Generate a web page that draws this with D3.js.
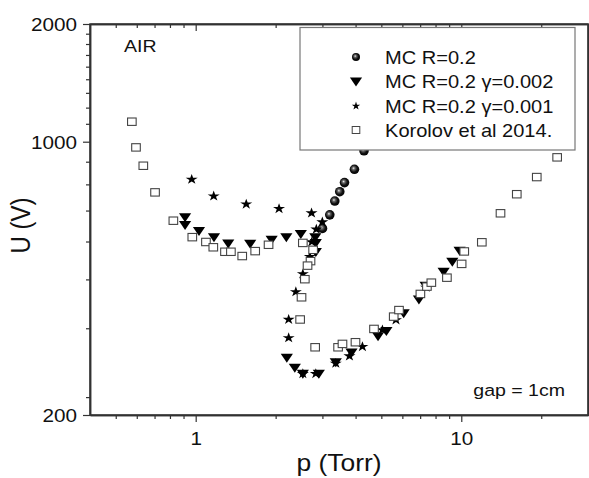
<!DOCTYPE html>
<html>
<head>
<meta charset="utf-8">
<script src="https://cdn.jsdelivr.net/npm/d3@7"></script>
<style>
  body { margin: 0; background: #fff; }
  text { font-family: "Liberation Sans", Arial, sans-serif; fill: #111; }
</style>
</head>
<body>
<svg id="chart" width="589" height="478"></svg>
<script>
// Korolov et al 2014 (open squares)
const korolovP = [0.575, 0.596, 0.635, 0.703, 0.824, 0.971, 1.093, 1.165, 1.289, 1.357, 1.497, 1.675, 1.881,
  2.532, 2.768, 2.706, 2.637, 2.576, 2.503, 2.473, 2.817, 3.437, 3.570, 3.996, 4.692, 5.567, 5.828,
  7.015, 7.424, 7.713, 8.829, 10.03, 10.26, 11.95, 14.05, 16.18, 19.24, 22.96];
const korolovU = [1125, 967, 868, 742, 628, 570, 554, 537, 523, 523, 510, 525, 545,
  551, 529, 495, 482, 445, 400, 351, 298, 298, 304, 307, 332, 357, 371,
  408, 426, 436, 449, 487, 524, 553, 656, 734, 812, 912];

// MC R=0.2 (spheres)
const mcP = [3.002, 3.198, 3.340, 3.487, 3.633, 3.960, 4.303];
const mcU = [600, 650, 705, 745, 786, 850, 948];

// MC R=0.2 gamma=0.002 (down triangles)
const mc002P = [0.912, 0.912, 1.029, 1.172, 1.326, 1.604, 1.932, 2.194, 2.488, 2.821, 2.833, 2.833,
  2.204, 2.362, 2.532, 2.908, 3.369, 3.860, 4.859, 5.224, 6.069, 6.927, 7.340, 8.581, 9.251, 9.854];
const mc002U = [641, 612, 591, 570, 549, 548, 561, 570, 581, 570, 551, 522,
  280, 264, 255, 255, 273, 289, 318, 328, 364, 395, 428, 465, 493, 526];

// MC R=0.2 gamma=0.001 (stars)
const mc001P = [0.966, 1.169, 1.550, 2.060, 2.730, 2.998, 2.846, 2.737, 2.690, 2.532, 2.383, 2.239, 2.239,
  2.532, 2.833, 3.369, 3.793, 4.244, 5.047, 5.678, 7.373];
const mc001U = [801, 726, 692, 674, 657, 623, 597, 554, 508, 459, 413, 351, 315,
  255, 255, 271, 283, 299, 330, 350, 424];

const xMajor = [1, 10];
const xMinor = [0.5, 0.6, 0.7, 0.8, 0.9, 2, 3, 4, 5, 6, 7, 8, 9, 20];
const yMajor = [200, 1000, 2000];
const yMinor = d3.range(2, 18).filter(k => k !== 9).map(k => k * 1000 / 9);

const legendLabels = ["MC R=0.2", "MC R=0.2 \u03b3=0.002", "MC R=0.2 \u03b3=0.001", "Korolov et al 2014."];

const mLeft = 90, mRight = 588, mTop = 24, mBottom = 415;
const sx = 1.15; // picture is a bit wider than tall

const svg = d3.select("#chart");
const x = d3.scaleLog().domain([0.4, 30]).range([mLeft, mRight]);
const y = d3.scaleLog().domain([200, 2000]).range([mBottom, mTop]);

// sphere shading
const defs = svg.append("defs");
const grad = defs.append("radialGradient").attr("id", "ball")
  .attr("cx", "45%").attr("cy", "45%").attr("r", "60%")
  .attr("fx", "40%").attr("fy", "38%");
grad.append("stop").attr("offset", "0%").attr("stop-color", "#eee");
grad.append("stop").attr("offset", "25%").attr("stop-color", "#666");
grad.append("stop").attr("offset", "60%").attr("stop-color", "#111");
grad.append("stop").attr("offset", "100%").attr("stop-color", "#000");

const triPath = "M-5.3,-4 L5.3,-4 L0,5 Z";
const starPath = d3.symbol().type(d3.symbolStar).size(34)();

function pts(ps, us) { return ps.map((p, i) => [p, us[i]]); }

// axes
const axisColor = "#333";
function styleAxis(g) {
  g.select(".domain").attr("stroke", axisColor).attr("stroke-width", 1.5);
  g.selectAll(".tick line").attr("stroke", axisColor).attr("stroke-width", 1.2);
}

// bottom (outward) and top (inward)
svg.append("g").attr("transform", `translate(0,${mBottom})`)
  .call(d3.axisBottom(x).tickValues(xMinor).tickSize(4).tickFormat("").tickSizeOuter(0))
  .call(styleAxis);
const xAx = svg.append("g").attr("transform", `translate(0,${mBottom})`)
  .call(d3.axisBottom(x).tickValues(xMajor).tickSize(7).tickSizeOuter(0).tickFormat(d3.format("d")))
  .call(styleAxis);
xAx.selectAll("text").attr("font-size", 18).attr("dy", null).attr("y", 30)
  .attr("transform", `scale(${sx},1)`).attr("x", 0);

svg.append("g").attr("transform", `translate(0,${mTop})`)
  .call(d3.axisBottom(x).tickValues(xMinor).tickSize(4).tickFormat("").tickSizeOuter(0))
  .call(styleAxis);
svg.append("g").attr("transform", `translate(0,${mTop})`)
  .call(d3.axisBottom(x).tickValues(xMajor).tickSize(7).tickFormat("").tickSizeOuter(0))
  .call(styleAxis);

// left (outward) and right (inward)
svg.append("g").attr("transform", `translate(${mLeft},0)`)
  .call(d3.axisLeft(y).tickValues(yMinor).tickSize(4).tickFormat("").tickSizeOuter(0))
  .call(styleAxis);
const yAx = svg.append("g").attr("transform", `translate(${mLeft},0)`)
  .call(d3.axisLeft(y).tickValues(yMajor).tickSize(7).tickSizeOuter(0).tickFormat(d3.format("d")))
  .call(styleAxis);
yAx.selectAll("text").attr("font-size", 18).attr("dy", "0.35em")
  .attr("transform", `scale(${sx},1)`).attr("x", -13 / sx);

svg.append("g").attr("transform", `translate(${mRight},0)`)
  .call(d3.axisLeft(y).tickValues(yMinor).tickSize(-4).tickFormat("").tickSizeOuter(0))
  .call(styleAxis);
svg.append("g").attr("transform", `translate(${mRight},0)`)
  .call(d3.axisLeft(y).tickValues(yMajor).tickSize(-7).tickFormat("").tickSizeOuter(0))
  .call(styleAxis);

// frame
svg.append("rect").attr("x", mLeft).attr("y", mTop)
  .attr("width", mRight - mLeft).attr("height", mBottom - mTop)
  .attr("fill", "none").attr("stroke", axisColor).attr("stroke-width", 1.5);

// data marks
const plot = svg.append("g");
plot.selectAll(".ball").data(pts(mcP, mcU)).join("circle")
  .attr("class", "ball")
  .attr("cx", d => x(d[0])).attr("cy", d => y(d[1])).attr("r", 4.8)
  .attr("fill", "url(#ball)");

plot.selectAll(".tri").data(pts(mc002P, mc002U)).join("path")
  .attr("class", "tri")
  .attr("transform", d => `translate(${x(d[0])},${y(d[1])}) scale(${sx},1)`)
  .attr("d", triPath).attr("fill", "#000");

plot.selectAll(".star").data(pts(mc001P, mc001U)).join("path")
  .attr("class", "star")
  .attr("transform", d => `translate(${x(d[0])},${y(d[1])}) scale(${sx},1)`)
  .attr("d", starPath).attr("fill", "#000");

plot.selectAll(".sq").data(pts(korolovP, korolovU)).join("rect")
  .attr("class", "sq")
  .attr("x", d => x(d[0]) - 4.3).attr("y", d => y(d[1]) - 3.7)
  .attr("width", 8.6).attr("height", 7.4)
  .attr("fill", "#fff").attr("stroke", "#444").attr("stroke-width", 1.1);

// legend
const lg = svg.append("g");
lg.append("rect").attr("x", 300).attr("y", 27.5).attr("width", 275).attr("height", 122.5)
  .attr("fill", "#fff").attr("stroke", "#777").attr("stroke-width", 1.2);
const rowY = [57, 81.5, 106, 130];
const symX = 356, txtX = 385;
lg.append("circle").attr("cx", symX).attr("cy", rowY[0]).attr("r", 4).attr("fill", "url(#ball)");
lg.append("path").attr("transform", `translate(${symX},${rowY[1]}) scale(${sx},1)`)
  .attr("d", triPath).attr("fill", "#000");
lg.append("path").attr("transform", `translate(${symX},${rowY[2]})`)
  .attr("d", d3.symbol().type(d3.symbolStar).size(22)()).attr("fill", "#000");
lg.append("rect").attr("x", symX - 3.8).attr("y", rowY[3] - 3.5).attr("width", 7.6).attr("height", 7)
  .attr("fill", "#fff").attr("stroke", "#444").attr("stroke-width", 1);
lg.selectAll(".lt").data(legendLabels).join("text")
  .attr("class", "lt")
  .attr("transform", (d, i) => `translate(${txtX},${rowY[i] + 6.5}) scale(${sx * 0.97},1)`)
  .attr("font-size", 18).text(d => d);

// annotations
svg.append("text").attr("transform", `translate(124,52) scale(${sx},1)`)
  .attr("font-size", 17).text("AIR");
svg.append("text").attr("transform", `translate(565,396) scale(${sx},1)`)
  .attr("font-size", 17).attr("text-anchor", "end").text("gap = 1cm");

// axis titles
svg.append("text").attr("transform", `translate(${(mLeft + mRight) / 2},471) scale(${sx},1)`)
  .attr("font-size", 23).attr("text-anchor", "middle").text("p (Torr)");
svg.append("text").attr("transform", `translate(30,${(mTop + mBottom) / 2 + 6}) rotate(-90) scale(1,${sx})`)
  .attr("font-size", 24).attr("text-anchor", "middle").text("U (V)");
</script>
</body>
</html>
